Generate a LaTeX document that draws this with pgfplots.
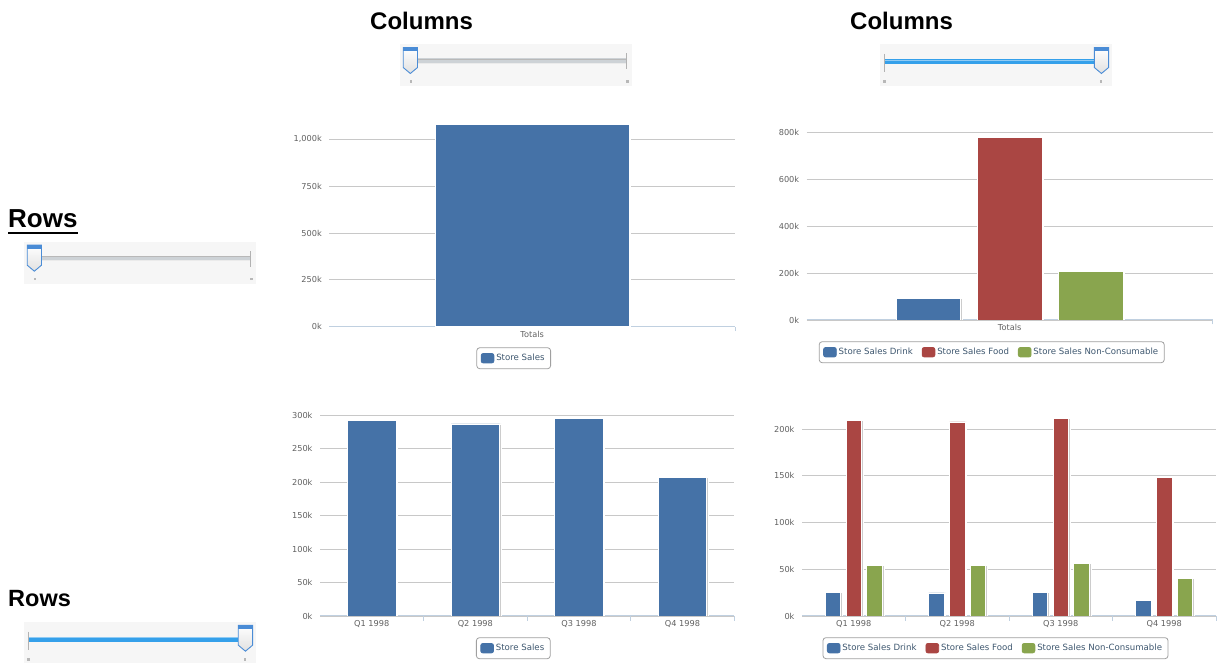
\documentclass[border=0pt]{standalone}
\usepackage{fontspec}
\setmainfont{DejaVu Sans}
\newfontfamily\titlefont{Liberation Sans}
\usepackage{pgfplots}
\pgfplotsset{compat=1.18}
\definecolor{cBlue}{HTML}{4572A7}
\definecolor{cRed}{HTML}{AA4643}
\definecolor{cGreen}{HTML}{89A54E}
\definecolor{gridc}{HTML}{C8C8C8}
\definecolor{axisc}{HTML}{C0D0E0}
\definecolor{tickc}{HTML}{606060}
\definecolor{legc}{HTML}{3E576F}
\definecolor{legborder}{HTML}{A0A0A0}
\definecolor{sbg}{HTML}{F6F6F6}
\definecolor{strack}{HTML}{CDD2D6}
\definecolor{sblue}{HTML}{35A0EA}
\definecolor{hblue}{HTML}{4A8CD6}

\pgfplotsset{
  hc/.style={
    scale only axis,
    axis lines*=left,
    y axis line style={draw=none},
    x axis line style={-, draw=axisc, line width=1bp},
    ymin=0,
    enlargelimits=false,
    ymajorgrids,
    grid style={draw=gridc, line width=0.8bp},
    major tick length=0pt,
    tick style={draw=axisc, line width=0.8bp},
    tick label style={font=\fontsize{8.2bp}{9.8bp}\selectfont, text=tickc},
    yticklabel style={xshift=-4bp},
    xticklabel style={yshift=-1bp},
    extra x tick style={major tick length=4.5bp, tick align=outside},
    ybar,
    legend cell align=left,
    legend style={draw=legborder, rounded corners=3bp, line width=0.8bp,
      font=\fontsize{8.6bp}{10bp}\selectfont, text=legc,
      inner xsep=4bp, inner ysep=4.5bp, nodes={inner sep=2bp}, anchor=north,
      /tikz/every even column/.append style={column sep=7bp}},
  },
  hcbar/.style={fill=#1, draw=white, line width=0.8bp,
    preaction={fill=black!20, transform canvas={xshift=1.6bp}}},
  legimg/.style={legend image code/.code={\fill[#1, rounded corners=2bp] (0bp,-4.7bp) rectangle (12.7bp,4.7bp);}},
}

\newcommand\slhandle[1]{%
  \shade[top color=white, bottom color=black!12, draw=hblue, line width=0.9]
    ({#1},3.5) -- ({#1+14.3},3.5) -- ({#1+14.3},23.5) -- ({#1+7.15},29.5) -- ({#1},23.5) -- cycle;
  \fill[hblue] ({#1},3.5) rectangle ({#1+14.3},7.5);
}
\newcommand\sliderA[2]{%
  \begin{scope}[shift={(#1bp,#2bp)},x=1bp,y=-1bp]
    \fill[sbg] (0,0) rectangle (232,42);
    \fill[strack] (17,14.3) rectangle (227,19.5);
    \draw[black!28, line width=0.8] (17,15) -- (227,15);
    \draw[black!8, line width=0.8] (17,19) -- (227,19);
    \draw[black!30, line width=0.8] (226.7,9.5) -- (226.7,25);
    \fill[black!28] (9.5,36) rectangle (12.2,38.7);
    \fill[black!28] (226.3,36) rectangle (229,38.7);
    \slhandle{3.2}
  \end{scope}}
\newcommand\sliderB[2]{%
  \begin{scope}[shift={(#1bp,#2bp)},x=1bp,y=-1bp]
    \fill[sbg] (0,0) rectangle (232,42);
    \fill[sblue] (4.3,15.5) rectangle (216,20.5);
    \draw[white!45!sblue, line width=1] (4.3,16.2) -- (216,16.2);
    \draw[black!30, line width=0.8] (4.3,10) -- (4.3,28.3);
    \fill[black!28] (3,36.3) rectangle (5.7,39);
    \fill[black!28] (219.7,36.3) rectangle (222.4,39);
    \slhandle{214.3}
  \end{scope}}

\begin{document}
\begin{tikzpicture}
\useasboundingbox (0,0) rectangle (1217bp,663bp);

% titles
\node[anchor=base west, inner sep=0, font=\titlefont\bfseries\fontsize{24bp}{24bp}\selectfont] at (370bp,633bp) {Columns};
\node[anchor=base west, inner sep=0, font=\titlefont\bfseries\fontsize{24bp}{24bp}\selectfont] at (850bp,633bp) {Columns};
\node[anchor=base west, inner sep=0, font=\titlefont\bfseries\fontsize{26bp}{26bp}\selectfont] at (8bp,435bp) {Rows};
\draw[line width=2bp] (8bp,430.3bp) -- (78bp,430.3bp);
\node[anchor=base west, inner sep=0, font=\titlefont\bfseries\fontsize{23.5bp}{23.5bp}\selectfont] at (8bp,56.3bp) {Rows};

% sliders
\sliderA{400}{619}
\sliderB{880}{619}
\sliderA{24}{421.3}
\sliderB{24}{41.3}

% chart 1: Totals, one series
\begin{axis}[hc, at={(329.3bp,336.3bp)}, anchor=south west, width=405.7bp, height=206.1bp,
  xmin=-0.5, xmax=0.5, ymax=1100, xtick={0}, xticklabels={Totals},
  extra x ticks={0.5}, extra x tick labels={},
  ytick={0,250,500,750,1000}, yticklabels={0k,250k,500k,750k,{1,000k}},
  legend style={at={(0.4545,-0.1)}}]
\addlegendimage{legimg=cBlue}\addlegendentry{Store Sales}
\addplot[hcbar=cBlue, bar width=194bp, bar shift=0pt, forget plot] coordinates {(0,1081)};
\end{axis}

% chart 2: Totals, three series
\begin{axis}[hc, at={(806.7bp,343bp)}, anchor=south west, width=406bp, height=187.7bp,
  xmin=-0.5, xmax=0.5, ymax=800, xtick={0}, xticklabels={Totals},
  extra x ticks={0.5}, extra x tick labels={},
  ytick={0,200,400,600,800}, yticklabels={0k,200k,400k,600k,800k},
  legend columns=3,
  legend style={at={(0.4557,-0.1135)}}]
\addlegendimage{legimg=cBlue}\addlegendentry{Store Sales Drink}
\addlegendimage{legimg=cRed}\addlegendentry{Store Sales Food}
\addlegendimage{legimg=cGreen}\addlegendentry{Store Sales Non-Consumable}
\addplot[hcbar=cBlue, bar width=64.5bp, bar shift=-81.2bp, forget plot] coordinates {(0,92.5)};
\addplot[hcbar=cRed, bar width=64.5bp, bar shift=0bp, forget plot] coordinates {(0,780)};
\addplot[hcbar=cGreen, bar width=64.5bp, bar shift=81.2bp, forget plot] coordinates {(0,207.5)};
\end{axis}

% chart 3: quarters, one series
\begin{axis}[hc, at={(320bp,47bp)}, anchor=south west, width=414.3bp, height=201bp,
  xmin=-0.5, xmax=3.5, ymax=300, xtick={0,1,2,3}, xticklabels={Q1 1998,Q2 1998,Q3 1998,Q4 1998},
  extra x ticks={0.5,1.5,2.5,3.5}, extra x tick labels={},
  ytick={0,50,100,150,200,250,300}, yticklabels={0k,50k,100k,150k,200k,250k,300k},
  legend style={at={(0.4666,-0.106)}}]
\addlegendimage{legimg=cBlue}\addlegendentry{Store Sales}
\addplot[hcbar=cBlue, bar width=48.7bp, bar shift=0pt, forget plot] coordinates {(0,291.5) (1,286.6) (2,294.5) (3,207)};
\end{axis}

% chart 4: quarters, three series
\begin{axis}[hc, at={(802bp,47bp)}, anchor=south west, width=414bp, height=210.4bp,
  xmin=-0.5, xmax=3.5, ymax=225, xtick={0,1,2,3}, xticklabels={Q1 1998,Q2 1998,Q3 1998,Q4 1998},
  extra x ticks={0.5,1.5,2.5,3.5}, extra x tick labels={},
  ytick={0,50,100,150,200}, yticklabels={0k,50k,100k,150k,200k},
  legend columns=3,
  legend style={at={(0.4674,-0.101)}}]
\addlegendimage{legimg=cBlue}\addlegendentry{Store Sales Drink}
\addlegendimage{legimg=cRed}\addlegendentry{Store Sales Food}
\addlegendimage{legimg=cGreen}\addlegendentry{Store Sales Non-Consumable}
\addplot[hcbar=cBlue, bar width=15.5bp, bar shift=-20.8bp, forget plot] coordinates {(0,25.3) (1,24.6) (2,25.3) (3,17.1)};
\addplot[hcbar=cRed, bar width=15.5bp, bar shift=0bp, forget plot] coordinates {(0,208.9) (1,207.5) (2,211.4) (3,147.9)};
\addplot[hcbar=cGreen, bar width=15.5bp, bar shift=20.8bp, forget plot] coordinates {(0,54.5) (1,53.8) (2,56.3) (3,40.3)};
\end{axis}
\end{tikzpicture}
\end{document}
